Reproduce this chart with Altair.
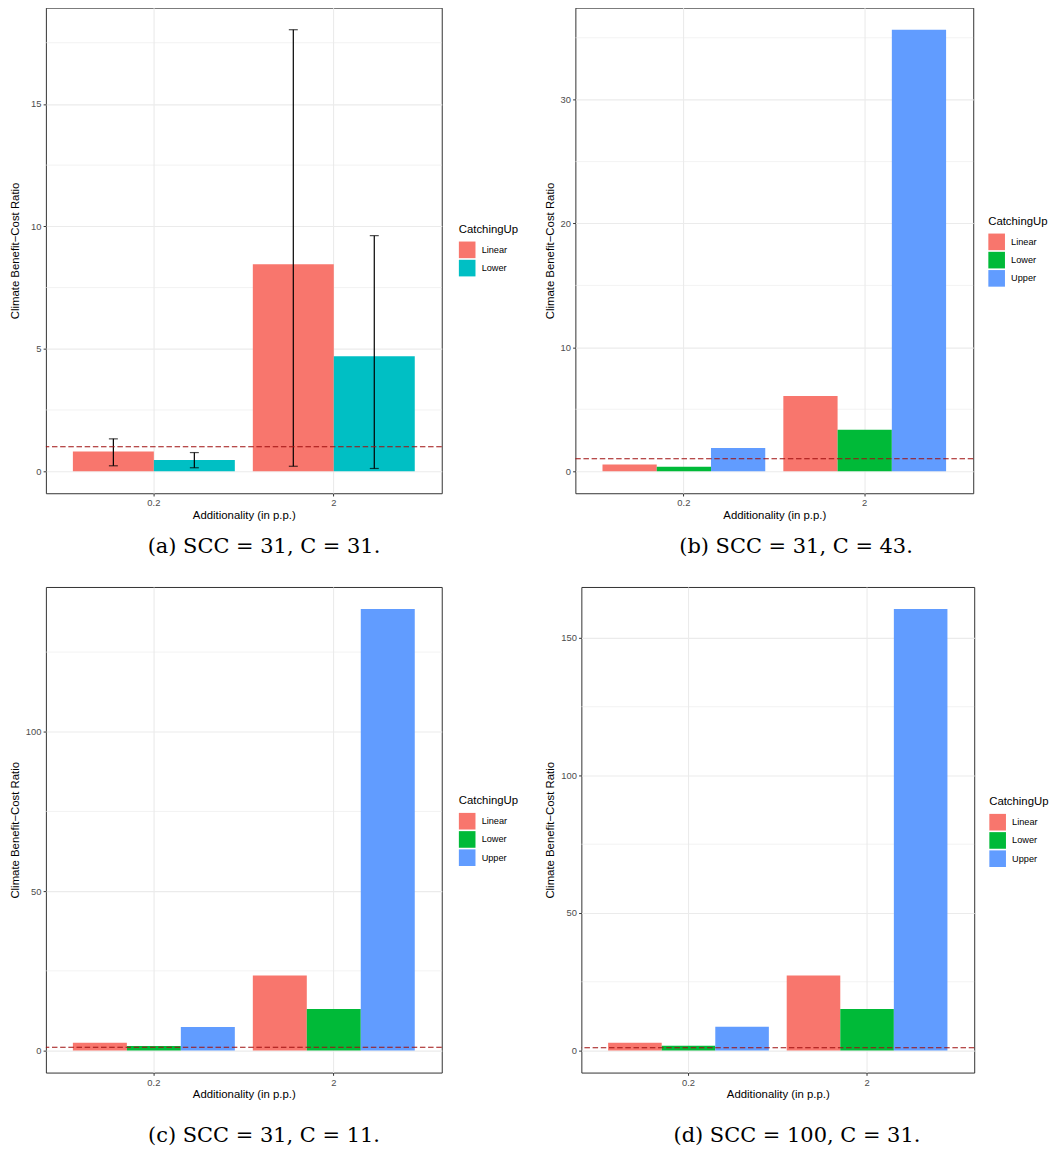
import altair as alt
import pandas as pd

FONT = "Liberation Sans"
XTITLE = "Additionality (in p.p.)"
YTITLE = "Climate Benefit\u2212Cost Ratio"

additionality = ["0.2", "2"]
ref_line = [1]

# Panel (a): SCC = 31, C = 31
a_groups = ["Linear", "Lower"]
a_colors = ["#F8766D", "#00BFC4"]
a_linear = [0.80, 8.45]
a_lower = [0.46, 4.69]
a_linear_lo = [0.22, 0.20]
a_linear_hi = [1.32, 18.03]
a_lower_lo = [0.14, 0.11]
a_lower_hi = [0.76, 9.62]
a_major = [0, 5, 10, 15]
a_minor = [2.5, 7.5, 12.5, 17.5]

# Panel (b): SCC = 31, C = 43
b_groups = ["Linear", "Lower", "Upper"]
b_colors = ["#F8766D", "#00BA38", "#619CFF"]
b_linear = [0.53, 6.07]
b_lower = [0.36, 3.35]
b_upper = [1.88, 35.65]
b_major = [0, 10, 20, 30]
b_minor = [5, 15, 25, 35]

# Panel (c): SCC = 31, C = 11
c_linear = [2.4, 23.55]
c_lower = [1.45, 13.0]
c_upper = [7.4, 138.5]
c_major = [0, 50, 100]
c_minor = [25, 75, 125]

# Panel (d): SCC = 100, C = 31
d_linear = [2.8, 27.3]
d_lower = [1.7, 15.1]
d_upper = [8.6, 160.5]
d_major = [0, 50, 100, 150]
d_minor = [25, 75, 125]

captions = [
    "(a) SCC = 31, C = 31.",
    "(b) SCC = 31, C = 43.",
    "(c) SCC = 31, C = 11.",
    "(d) SCC = 100, C = 31.",
]


def bars_frame(groups, series):
    rows = []
    for g, vals in zip(groups, series):
        for add, v in zip(additionality, vals):
            rows.append({"Additionality": add, "CatchingUp": g, "Ratio": v})
    return pd.DataFrame(rows)


def err_frame(groups, los, his):
    rows = []
    for g, lo, hi in zip(groups, los, his):
        for add, l, h in zip(additionality, lo, hi):
            rows.append({"Additionality": add, "CatchingUp": g, "lo": l, "hi": h})
    return pd.DataFrame(rows)


def panel(df, groups, colors, major, minor, caption, width, height,
          legend_x, legend_y, caption_offset, ytitle_pad, err=None):
    top = df["Ratio"].max()
    if err is not None:
        top = max(top, err["hi"].max())
    yscale = alt.Scale(domain=[-0.05 * top, 1.05 * top], nice=False, zero=False)
    yaxis = alt.Axis(title=YTITLE, values=major, grid=True, titlePadding=ytitle_pad)
    xdef = alt.X(
        "Additionality:N", sort=additionality,
        scale=alt.Scale(paddingInner=0.1, paddingOuter=0.15),
        axis=alt.Axis(title=XTITLE, labelAngle=0, bandPosition=0.5, grid=True),
    )
    xoff = alt.XOffset("CatchingUp:N", sort=groups,
                       scale=alt.Scale(paddingInner=0, paddingOuter=0))

    minor_layer = alt.Chart(pd.DataFrame({"Ratio": minor})).mark_rule(
        color="#EBEBEB", strokeWidth=0.6
    ).encode(y=alt.Y("Ratio:Q", scale=yscale, axis=yaxis))

    bars = alt.Chart(df).mark_bar().encode(
        x=xdef,
        xOffset=xoff,
        y=alt.Y("Ratio:Q", scale=yscale, axis=yaxis),
        y2=alt.datum(0),
        color=alt.Color(
            "CatchingUp:N", sort=groups,
            scale=alt.Scale(domain=groups, range=colors),
            legend=alt.Legend(
                title="CatchingUp", orient="none",
                legendX=width + legend_x, legendY=legend_y,
                symbolType="square", symbolSize=278, symbolStrokeWidth=0,
                symbolOpacity=1,
            ),
        ),
    )

    layers = [minor_layer, bars]
    if err is not None:
        stem = alt.Chart(err).mark_rule(color="black", strokeWidth=1.2).encode(
            x=xdef, xOffset=xoff,
            y=alt.Y("lo:Q", scale=yscale, axis=yaxis), y2="hi:Q",
        )
        cap_lo = alt.Chart(err).mark_tick(color="black", size=9, thickness=1.2).encode(
            x=xdef, xOffset=xoff, y=alt.Y("lo:Q", scale=yscale, axis=yaxis),
        )
        cap_hi = alt.Chart(err).mark_tick(color="black", size=9, thickness=1.2).encode(
            x=xdef, xOffset=xoff, y=alt.Y("hi:Q", scale=yscale, axis=yaxis),
        )
        layers += [stem, cap_lo, cap_hi]

    hline = alt.Chart(pd.DataFrame({"Ratio": ref_line})).mark_rule(
        color="#A01010", strokeDash=[5.5, 2.7], strokeWidth=1.1
    ).encode(y=alt.Y("Ratio:Q", scale=yscale, axis=yaxis))
    layers.append(hline)

    return alt.layer(*layers).properties(
        width=width, height=height,
        title=alt.TitleParams(
            caption, orient="bottom", anchor="middle", frame="bounds",
            font="DejaVu Serif", fontSize=21, fontWeight="normal",
            color="black", offset=caption_offset,
        ),
    )


pa = panel(bars_frame(a_groups, [a_linear, a_lower]), a_groups, a_colors,
           a_major, a_minor, captions[0], 397, 487, 17, 217, 15, 10.2,
           err=err_frame(a_groups, [a_linear_lo, a_lower_lo], [a_linear_hi, a_lower_hi]))
pb = panel(bars_frame(b_groups, [b_linear, b_lower, b_upper]), b_groups, b_colors,
           b_major, b_minor, captions[1], 399, 487, 15, 209, 15, 5)
pc = panel(bars_frame(b_groups, [c_linear, c_lower, c_upper]), b_groups, b_colors,
           c_major, c_minor, captions[2], 397, 487, 17, 209, 25, 5)
pd_ = panel(bars_frame(b_groups, [d_linear, d_lower, d_upper]), b_groups, b_colors,
            d_major, d_minor, captions[3], 394, 487, 15, 210, 25, 5)

res = dict(color="independent", y="independent", x="independent", xOffset="independent")

chart = alt.concat(
    pa, pb, pc, pd_, columns=2, align="none",
    spacing={"row": 28, "column": 24},
).resolve_scale(**res).resolve_legend(
    color="independent"
).properties(
    padding={"left": 0, "top": -3, "right": 0, "bottom": 0}
).configure_view(
    stroke="#333333", strokeWidth=1
).configure_axis(
    labelFont=FONT, labelFontSize=9.4, labelColor="#4D4D4D",
    titleFont=FONT, titleFontSize=11.4, titleColor="black", titleFontWeight="normal",
    tickColor="#333333", tickSize=2.75, tickWidth=1, domain=False,
    gridColor="#EBEBEB", gridWidth=1.1, labelPadding=2.2,
).configure_axisX(
    titlePadding=2, labelPadding=3
).configure_legend(
    titleFont=FONT, titleFontSize=11.4, titleColor="black", titleFontWeight="normal",
    labelFont=FONT, labelFontSize=9.2, labelColor="black",
    rowPadding=1.3, labelOffset=6, titlePadding=6, padding=0,
)

chart.save("out.html", embed_options={"renderer": "svg", "actions": False})
